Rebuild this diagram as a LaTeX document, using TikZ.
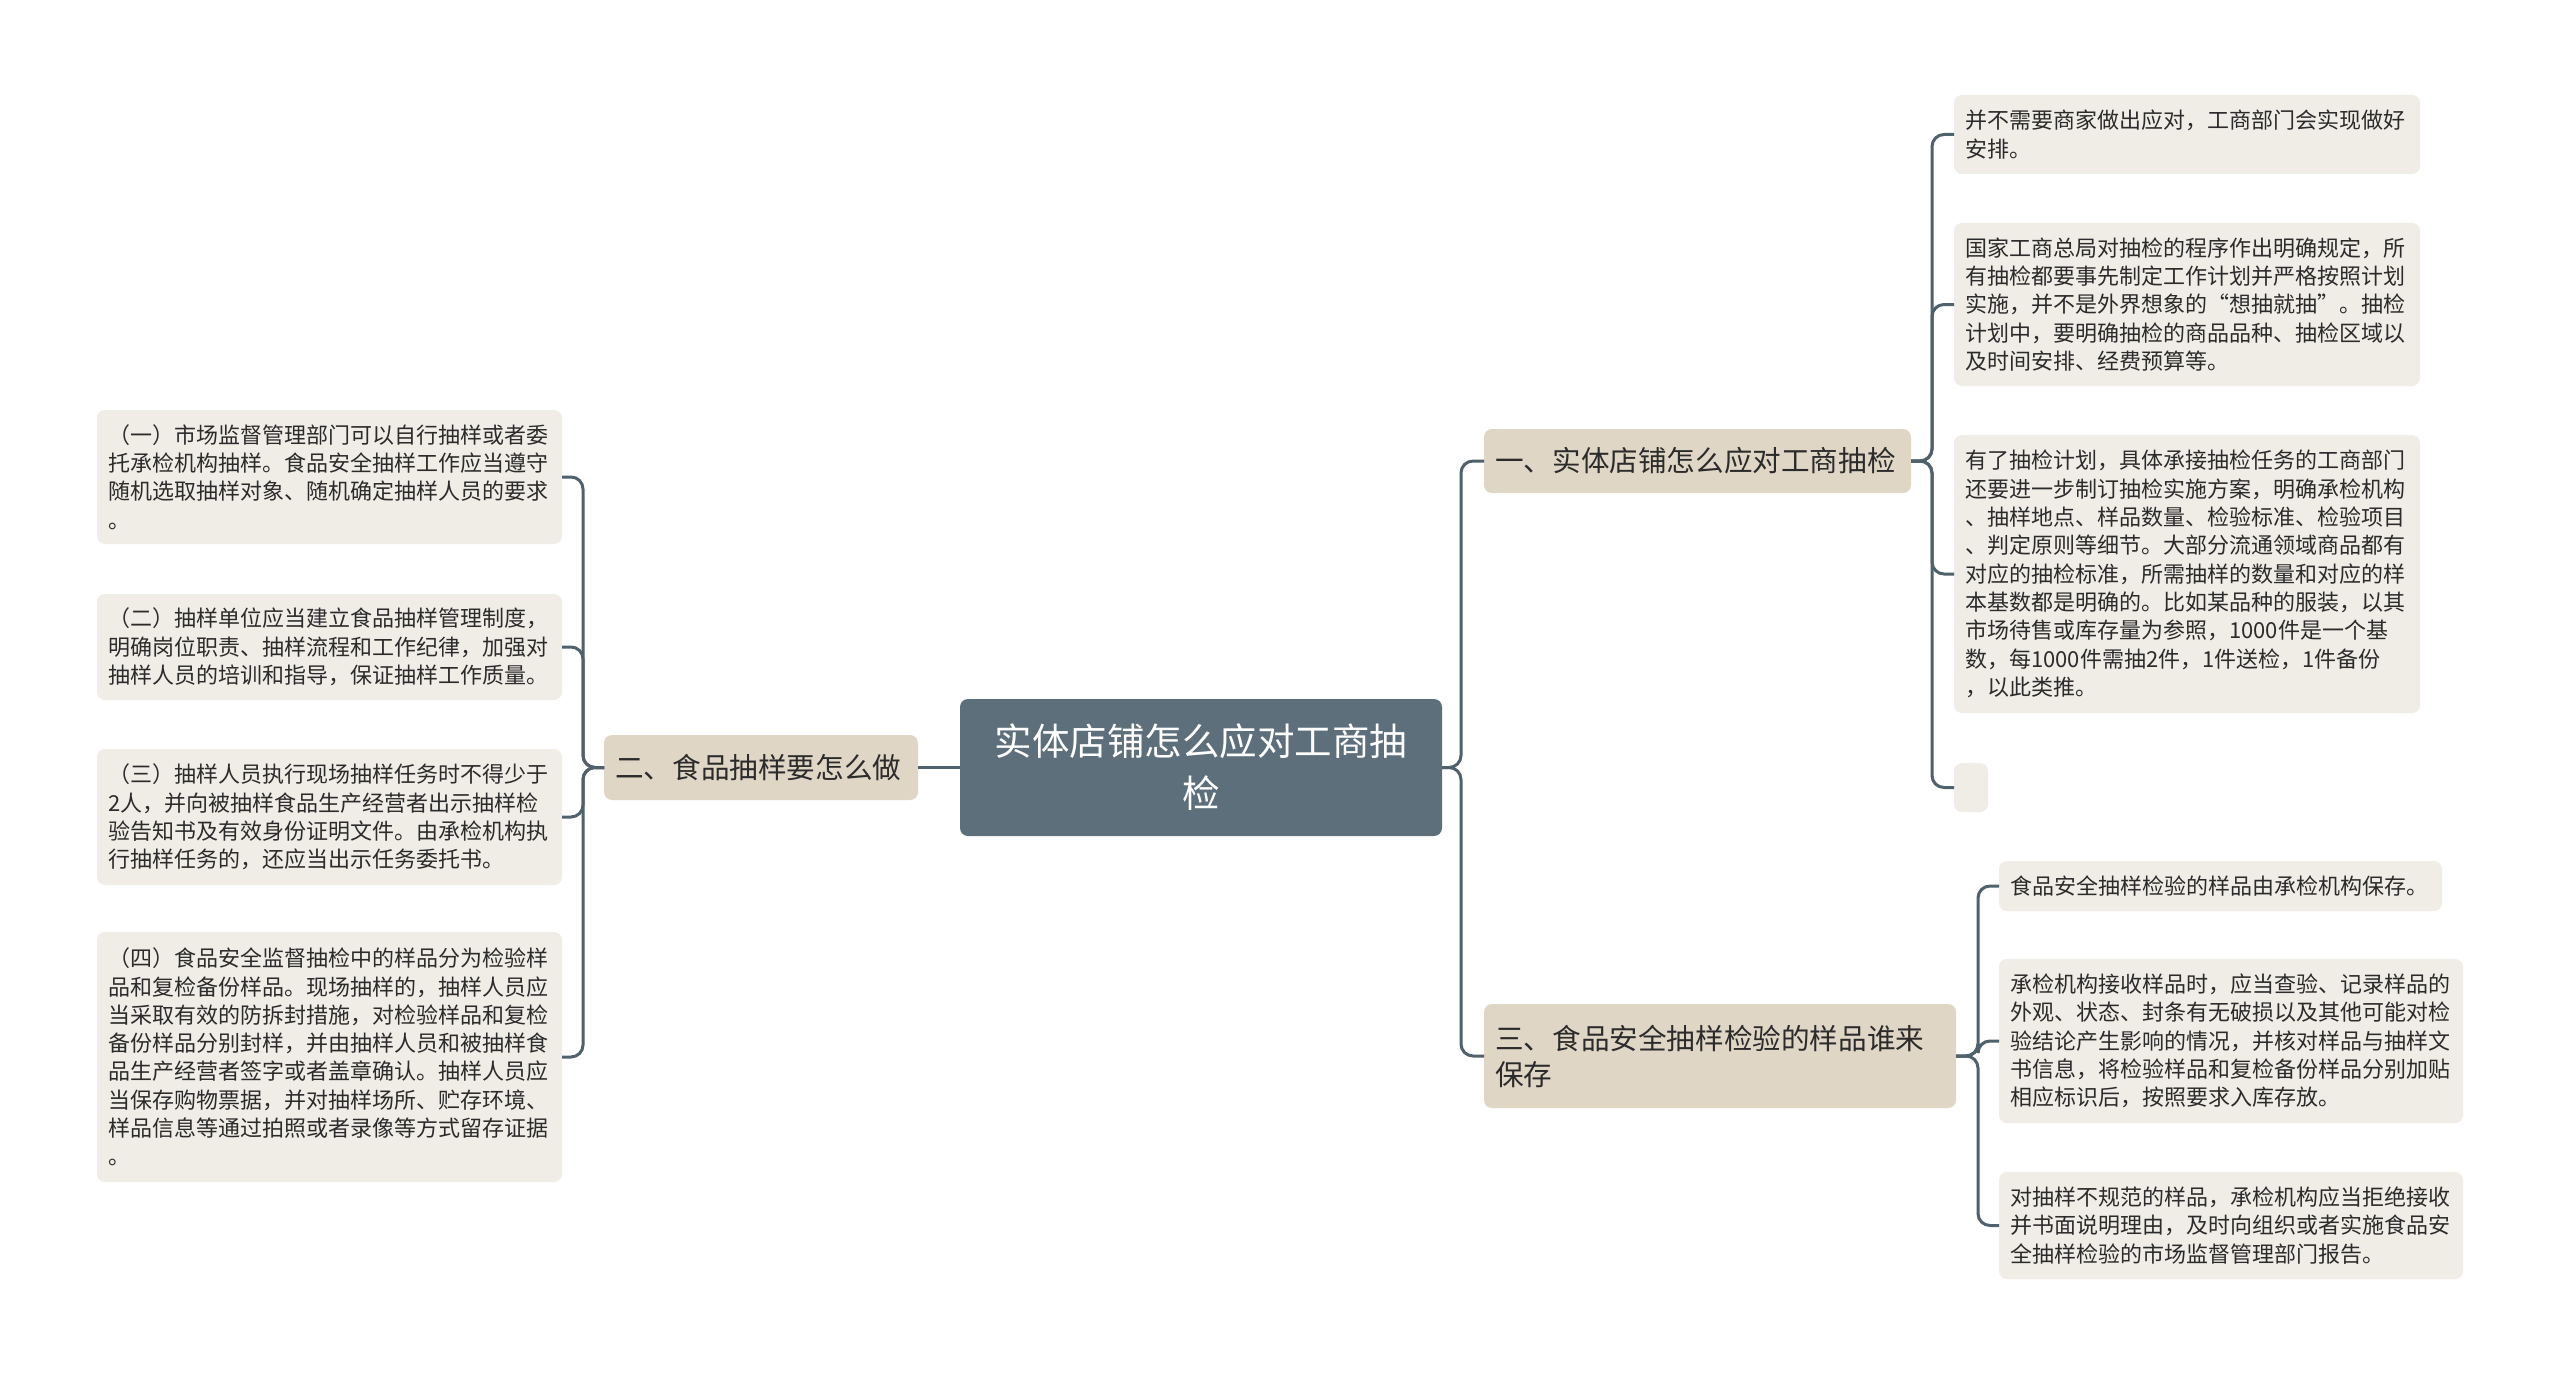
\documentclass[tikz,border=0pt]{standalone}
\usepackage{fontspec}
\setmainfont{Noto Sans CJK SC}
\definecolor{rootfill}{HTML}{5C6F7B}
\definecolor{branchfill}{HTML}{E0D6C6}
\definecolor{leaffill}{HTML}{F0EDE6}
\definecolor{linec}{HTML}{4F616D}
\definecolor{txt}{HTML}{2B2B2B}
\tikzset{
  rootbox/.style={draw=none,fill=rootfill,rounded corners=8pt,text=white,align=center,inner sep=0pt,
    font=\fontsize{37.5}{52}\selectfont},
  branchbox/.style={draw=none,fill=branchfill,rounded corners=8pt,text=txt,align=left,inner sep=0pt,
    font=\fontsize{28.6}{36}\selectfont},
  leafbox/.style={draw=none,fill=leaffill,rounded corners=8pt,text=txt,align=left,inner sep=0pt,
    font=\fontsize{22}{28.3}\selectfont},
  conn/.style={draw=linec,line width=3pt,rounded corners=12pt}
}
% box helper: name, x1, y1, x2, y2
\newcommand{\mybox}[7]{%
  \path[#1] (#3,#4) rectangle (#5,#6);
  \node[#1,fill=none,anchor=west,text width={#5-#3-22}] (#2) at ({#3+11},{(#4+#6)/2}) {#7};
  \coordinate (#2w) at (#3,{(#4+#6)/2});
  \coordinate (#2e) at (#5,{(#4+#6)/2});
}
\begin{document}
\begin{tikzpicture}[x=1pt,y=-1pt]
\useasboundingbox (0,0) rectangle (2560,1375);
\fill[white] (0,0) rectangle (2560,1375);

% root
\path[rootbox] (960,699) rectangle (1442,836);
\node[rootbox,fill=none,text width=460pt] (root) at (1201,767.5) {实体店铺怎么应对工商抽\\检};
\coordinate (rootw) at (960,767.5);
\coordinate (roote) at (1442,767.5);

% branches
\mybox{branchbox}{bb}{604}{735}{918}{800}{二、食品抽样要怎么做}
\mybox{branchbox}{ba}{1484}{429}{1911}{493}{一、实体店铺怎么应对工商抽检}
\mybox{branchbox}{bc}{1484}{1004}{1956}{1108}{三、食品安全抽样检验的样品谁来\\保存}

% left leaves
\mybox{leafbox}{la}{97}{410}{562}{544}{（一）市场监督管理部门可以自行抽样或者委\\托承检机构抽样。食品安全抽样工作应当遵守\\随机选取抽样对象、随机确定抽样人员的要求\\。}
\mybox{leafbox}{lb}{97}{594}{562}{700}{（二）抽样单位应当建立食品抽样管理制度，\\明确岗位职责、抽样流程和工作纪律，加强对\\抽样人员的培训和指导，保证抽样工作质量。}
\mybox{leafbox}{lc}{97}{749}{562}{885}{（三）抽样人员执行现场抽样任务时不得少于\\2人，并向被抽样食品生产经营者出示抽样检\\验告知书及有效身份证明文件。由承检机构执\\行抽样任务的，还应当出示任务委托书。}
\mybox{leafbox}{ld}{97}{932}{562}{1182}{（四）食品安全监督抽检中的样品分为检验样\\品和复检备份样品。现场抽样的，抽样人员应\\当采取有效的防拆封措施，对检验样品和复检\\备份样品分别封样，并由抽样人员和被抽样食\\品生产经营者签字或者盖章确认。抽样人员应\\当保存购物票据，并对抽样场所、贮存环境、\\样品信息等通过拍照或者录像等方式留存证据\\。}

% right leaves of branch one
\mybox{leafbox}{ca}{1954}{95}{2420}{174}{并不需要商家做出应对，工商部门会实现做好\\安排。}
\mybox{leafbox}{cb}{1954}{223}{2420}{386}{国家工商总局对抽检的程序作出明确规定，所\\有抽检都要事先制定工作计划并严格按照计划\\实施，并不是外界想象的“想抽就抽”。抽检\\计划中，要明确抽检的商品品种、抽检区域以\\及时间安排、经费预算等。}
\mybox{leafbox}{cc}{1954}{435}{2420}{713}{有了抽检计划，具体承接抽检任务的工商部门\\还要进一步制订抽检实施方案，明确承检机构\\、抽样地点、样品数量、检验标准、检验项目\\、判定原则等细节。大部分流通领域商品都有\\对应的抽检标准，所需抽样的数量和对应的样\\本基数都是明确的。比如某品种的服装，以其\\市场待售或库存量为参照，1000件是一个基\\数，每1000件需抽2件，1件送检，1件备份\\，以此类推。}
\path[leafbox] (1954,763) rectangle (1988,812);
\coordinate (cdw) at (1954,787.5);

% right leaves of branch three
\mybox{leafbox}{da}{1999}{861}{2442}{911}{食品安全抽样检验的样品由承检机构保存。}
\mybox{leafbox}{db}{1999}{959}{2463}{1123}{承检机构接收样品时，应当查验、记录样品的\\外观、状态、封条有无破损以及其他可能对检\\验结论产生影响的情况，并核对样品与抽样文\\书信息，将检验样品和复检备份样品分别加贴\\相应标识后，按照要求入库存放。}
\mybox{leafbox}{dc}{1999}{1172}{2463}{1279}{对抽样不规范的样品，承检机构应当拒绝接收\\并书面说明理由，及时向组织或者实施食品安\\全抽样检验的市场监督管理部门报告。}

% connectors
\draw[conn] (rootw) -- (bbe);
\draw[conn] (roote) -- ++(19,0) |- (baw);
\draw[conn] (roote) -- ++(19,0) |- (bcw);

\foreach \c in {la,lb,lc,ld}{
  \draw[conn] (bbw) -- ++(-21,0) |- (\c e);
}
\foreach \c in {ca,cb,cc,cd}{
  \draw[conn] (bae) -- ++(21,0) |- (\c w);
}
\foreach \c in {da,db,dc}{
  \draw[conn] (bce) -- ++(22,0) |- (\c w);
}
\end{tikzpicture}
\end{document}
